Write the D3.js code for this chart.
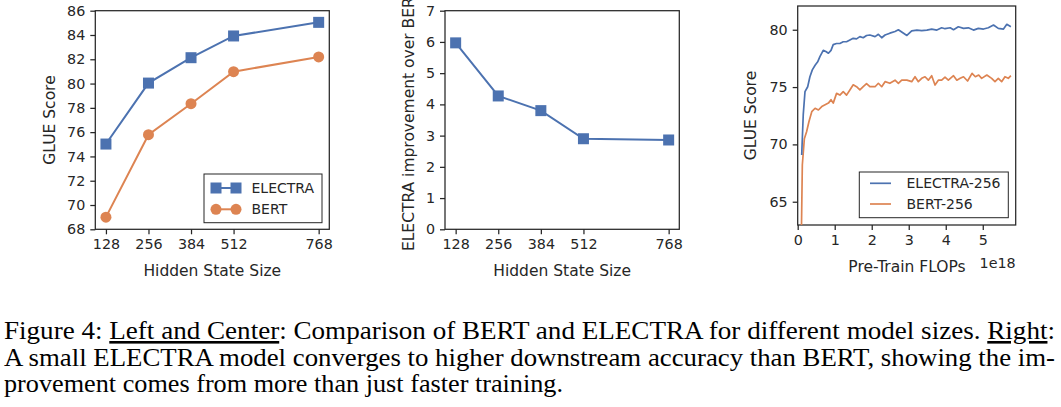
<!DOCTYPE html>
<html><head><meta charset="utf-8">
<script src="https://cdn.jsdelivr.net/npm/d3@7"></script>
<style>
body{margin:0;background:#fff}
svg{display:block}
.ax text, .lbl, .leg{font-family:"DejaVu Sans",sans-serif;fill:#262626}
.ax text{font-size:14.3px}
.lbl{font-size:15.5px}
.leg{font-size:14px}
.cap{font-family:"Liberation Serif","Times New Roman",serif;font-size:26px;fill:#000}
</style>
</head><body>
<svg id="c" width="1061" height="407"></svg>
<script>
// ---- data ----
const sizes = [128, 256, 384, 512, 768];
const electraGlue = [75.02, 80.04, 82.13, 83.92, 85.04];
const bertGlue = [69.0, 75.79, 78.34, 80.98, 82.19];
const improvement = [5.97, 4.27, 3.80, 2.90, 2.86];
const leftYTicks = [68, 70, 72, 74, 76, 78, 80, 82, 84, 86];
const centerYTicks = [0, 1, 2, 3, 4, 5, 6, 7];
const rightYTicks = [65, 70, 75, 80];
const rightXTicks = [0, 1, 2, 3, 4, 5];

const flopsElectra = [0.108,0.15,0.197,0.27,0.33,0.395,0.47,0.54,0.6,0.69,0.76,0.83,0.9,0.96,1.05,1.14,1.23,1.32,1.41,1.5,1.59,1.68,1.77,1.86,1.95,2.09,2.18,2.27,2.36,2.49,2.63,2.72,2.81,2.95,3.08,3.22,3.35,3.49,3.62,3.76,3.89,3.98,4.12,4.21,4.34,4.48,4.61,4.75,4.88,5.02,5.15,5.29,5.42,5.56,5.65,5.76];
const glueElectra = [69.08,72.6,74.6,75.03,75.9,76.5,76.9,77.2,77.65,78.2,78.1,77.95,78.2,78.7,78.8,78.8,78.95,78.95,79.1,79.25,79.2,79.4,79.3,79.5,79.54,79.4,79.6,79.3,79.54,79.7,79.85,80.0,79.8,79.5,79.9,79.97,79.92,79.97,80.06,79.97,80.17,80.09,80.17,80.0,80.26,80.12,80.17,79.97,80.12,80.06,80.17,80.41,80.12,80.06,80.47,80.26];
const flopsBert = [0.09,0.125,0.18,0.24,0.305,0.38,0.47,0.56,0.65,0.74,0.83,0.9,0.96,1.05,1.14,1.23,1.32,1.41,1.5,1.59,1.68,1.77,1.86,1.95,2.09,2.18,2.27,2.36,2.49,2.63,2.72,2.81,2.95,3.08,3.17,3.26,3.35,3.44,3.53,3.62,3.71,3.8,3.89,3.98,4.07,4.21,4.3,4.39,4.48,4.59,4.71,4.8,4.89,4.97,5.11,5.24,5.33,5.42,5.51,5.6,5.69,5.76];
const glueBert = [60.0,68.2,70.5,71.1,72.0,72.85,73.15,73.0,73.3,73.45,73.6,73.9,73.6,74.45,74.3,74.6,74.3,74.75,75.2,75.03,74.75,75.03,75.3,75.03,75.03,75.33,75.03,75.47,75.33,75.6,75.33,75.6,75.6,75.47,75.9,75.47,75.76,75.9,75.6,75.99,75.18,75.6,75.6,75.86,75.6,75.99,75.6,75.76,75.9,75.53,76.2,75.9,76.05,75.76,76.05,75.76,75.47,75.76,75.47,75.9,75.76,75.99];

const captionLines = [
  [{t:"Figure 4: "},{t:"Left and Center",u:true},{t:": Comparison of BERT and ELECTRA for different model sizes. "},{t:"Right",u:true},{t:":"}],
  [{t:"A small ELECTRA model converges to higher downstream accuracy than BERT, showing the im-"}],
  [{t:"provement comes from more than just faster training."}]
];
const captionWidths = [1051, 1051, 559];

// ---- drawing ----
const BLUE = "#4c72b0", ORANGE = "#dd8452", INK = "#262626";
const svg = d3.select("#c");

function frame(g, x, y, xTicks, yTicks) {
  const [x0, x1] = x.range(), [y0, y1] = y.range();
  const ax = g.append("g").attr("class","ax").attr("transform",`translate(0,${y0})`)
    .call(d3.axisBottom(x).tickValues(xTicks).tickSize(5).tickSizeOuter(0).tickPadding(4.5).tickFormat(d3.format("d")));
  const ay = g.append("g").attr("class","ax").attr("transform",`translate(${x0},0)`)
    .call(d3.axisLeft(y).tickValues(yTicks).tickSize(5).tickSizeOuter(0).tickPadding(5).tickFormat(d3.format("d")));
  [ax, ay].forEach(a => {
    a.select(".domain").remove();
    a.selectAll(".tick line").attr("stroke", INK).attr("stroke-width", 1.25);
  });
  g.append("rect").attr("x", x0).attr("y", y1).attr("width", x1 - x0).attr("height", y0 - y1)
    .attr("fill","none").attr("stroke", INK).attr("stroke-width", 1.25);
}

function square(g, cx, cy, s, c){ g.append("rect").attr("x",cx-s/2).attr("y",cy-s/2).attr("width",s).attr("height",s).attr("fill",c); }
function circle(g, cx, cy, r, c){ g.append("circle").attr("cx",cx).attr("cy",cy).attr("r",r).attr("fill",c); }

// Left panel
{
  const g = svg.append("g");
  const x = d3.scaleLinear().domain([96, 800]).range([95.3, 329.3]);
  const y = d3.scaleLinear().domain([68, 86]).range([229.3, 10.7]);
  frame(g, x, y, sizes, leftYTicks);
  const line = d3.line().x((d,i)=>x(sizes[i])).y(d=>y(d));
  g.append("path").attr("d", line(bertGlue)).attr("fill","none").attr("stroke",ORANGE).attr("stroke-width",2);
  g.append("path").attr("d", line(electraGlue)).attr("fill","none").attr("stroke",BLUE).attr("stroke-width",2);
  bertGlue.forEach((d,i)=>circle(g, x(sizes[i]), y(d), 5.5, ORANGE));
  electraGlue.forEach((d,i)=>square(g, x(sizes[i]), y(d), 11, BLUE));
  g.append("text").attr("class","lbl").attr("x",(95.3+329.3)/2).attr("y",275.5).attr("text-anchor","middle").text("Hidden State Size");
  g.append("text").attr("class","lbl").attr("transform","translate(54.5,120) rotate(-90)").attr("text-anchor","middle").text("GLUE Score");
  const L = g.append("g");
  L.append("rect").attr("x",204).attr("y",174).attr("width",118).attr("height",48.7).attr("fill","#fff").attr("stroke",INK).attr("stroke-width",1);
  [["ELECTRA",BLUE,188,"s"],["BERT",ORANGE,209.3,"c"]].forEach(([t,c,yy,m])=>{
    L.append("line").attr("x1",216).attr("x2",236).attr("y1",yy).attr("y2",yy).attr("stroke",c).attr("stroke-width",2);
    if (m==="s"){ square(L,216,yy,11,c); square(L,236,yy,11,c);} else { circle(L,216,yy,5.5,c); circle(L,236,yy,5.5,c);}
    L.append("text").attr("class","leg").attr("x",251.5).attr("y",yy).attr("dy","0.36em").text(t);
  });
}

// Center panel
{
  const g = svg.append("g");
  const x = d3.scaleLinear().domain([96, 800]).range([445, 679.3]);
  const y = d3.scaleLinear().domain([0, 7]).range([229.3, 10.7]);
  frame(g, x, y, sizes, centerYTicks);
  const line = d3.line().x((d,i)=>x(sizes[i])).y(d=>y(d));
  g.append("path").attr("d", line(improvement)).attr("fill","none").attr("stroke",BLUE).attr("stroke-width",2);
  improvement.forEach((d,i)=>square(g, x(sizes[i]), y(d), 11, BLUE));
  g.append("text").attr("class","lbl").attr("x",(445+679.3)/2).attr("y",275.5).attr("text-anchor","middle").text("Hidden State Size");
  g.append("text").attr("class","lbl").attr("transform","translate(413.5,120) rotate(-90)").attr("text-anchor","middle").text("ELECTRA improvement over BERT");
}

// Right panel
{
  const g = svg.append("g");
  const x = d3.scaleLinear().domain([0, 5.89]).range([797.7, 1015.7]);
  const y = d3.scaleLinear().domain([62.97, 82.07]).range([225, 6]);
  frame(g, x, y, rightXTicks, rightYTicks);
  svg.append("clipPath").attr("id","rc").append("rect").attr("x",797.7).attr("y",6).attr("width",218).attr("height",219);
  const line = d3.line().x(d=>x(d[0])).y(d=>y(d[1]));
  g.append("path").attr("clip-path","url(#rc)").attr("d", line(flopsBert.map((f,i)=>[f,glueBert[i]]))).attr("fill","none").attr("stroke",ORANGE).attr("stroke-width",1.7).attr("stroke-linejoin","round");
  g.append("path").attr("clip-path","url(#rc)").attr("d", line(flopsElectra.map((f,i)=>[f,glueElectra[i]]))).attr("fill","none").attr("stroke",BLUE).attr("stroke-width",1.7).attr("stroke-linejoin","round");
  g.append("text").attr("class","lbl").attr("x",907).attr("y",271.5).attr("text-anchor","middle").text("Pre-Train FLOPs");
  g.append("text").attr("x",1015.7).attr("y",267.5).attr("text-anchor","end").style("font-size","14.3px").style("font-family","DejaVu Sans, sans-serif").style("fill","#262626").text("1e18");
  g.append("text").attr("class","lbl").attr("transform","translate(756,115.5) rotate(-90)").attr("text-anchor","middle").text("GLUE Score");
  const L = g.append("g");
  L.append("rect").attr("x",859.3).attr("y",172).attr("width",149).attr("height",45.7).attr("fill","#fff").attr("stroke",INK).attr("stroke-width",1);
  [["ELECTRA-256",BLUE,183.3],["BERT-256",ORANGE,204]].forEach(([t,c,yy])=>{
    L.append("line").attr("x1",870).attr("x2",891).attr("y1",yy).attr("y2",yy).attr("stroke",c).attr("stroke-width",1.7);
    L.append("text").attr("class","leg").attr("x",906.5).attr("y",yy).attr("dy","0.36em").text(t);
  });
}

// Caption
{
  const baselines = [339, 365.5, 392];
  captionLines.forEach((parts, i) => {
    const t = svg.append("text").attr("class","cap").attr("x",4).attr("y",baselines[i]);
    parts.forEach(p => { const s = t.append("tspan").text(p.t); if (p.u) s.attr("text-decoration","underline"); });
    t.attr("textLength", captionWidths[i]).attr("lengthAdjust","spacingAndGlyphs");
  });
}
</script>
</body></html>
